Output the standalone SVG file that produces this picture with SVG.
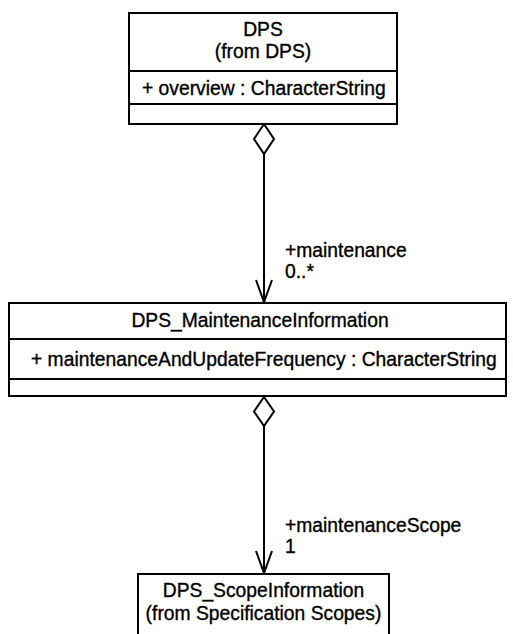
<svg xmlns="http://www.w3.org/2000/svg" width="513" height="634" viewBox="0 0 513 634">
<style>
.box{fill:#fff;stroke:#000;stroke-width:2}
.div{stroke:#000;stroke-width:2}
.t{font-family:"Liberation Sans",Arial,sans-serif;font-size:19.3px;fill:#000;stroke:#000;stroke-width:0.35}
.c{text-anchor:middle}
.ln{stroke:#000;stroke-width:2;fill:none}
.dia{fill:#fff;stroke:#000;stroke-width:2}
</style>
<rect width="513" height="634" fill="#fff"/>
<g id="connectors">
  <g id="c1">
    <line class="ln" x1="264" y1="154" x2="264" y2="302"/>
    <polygon class="dia" points="264,124 274,139 264,154 254,139"/>
    <polyline class="ln" points="256,280 264,302 272,280"/>
    <text class="t" x="285" y="257">+maintenance</text>
    <text class="t" x="285" y="278">0..*</text>
  </g>
  <g id="c2">
    <line class="ln" x1="264" y1="426" x2="264" y2="573"/>
    <polygon class="dia" points="264,397 274,411.5 264,426 254,411.5"/>
    <polyline class="ln" points="256,551 264,573 272,551"/>
    <text class="t" x="285" y="532">+maintenanceScope</text>
    <text class="t" x="285" y="553">1</text>
  </g>
</g>
<g id="DPS">
  <rect class="box" x="129" y="13" width="268" height="111"/>
  <line class="div" x1="129" y1="71" x2="397" y2="71"/>
  <line class="div" x1="129" y1="104" x2="397" y2="104"/>
  <text class="t c" x="263" y="36">DPS</text>
  <text class="t c" x="263" y="58">(from DPS)</text>
  <text class="t" x="142" y="95">+ overview : CharacterString</text>
</g>
<g id="DPS_MaintenanceInformation">
  <rect class="box" x="9" y="303" width="497" height="93"/>
  <line class="div" x1="9" y1="339" x2="506" y2="339"/>
  <line class="div" x1="9" y1="379" x2="506" y2="379"/>
  <text class="t c" x="260" y="327">DPS_MaintenanceInformation</text>
  <text class="t" x="31" y="366">+ maintenanceAndUpdateFrequency : CharacterString</text>
</g>
<g id="DPS_ScopeInformation">
  <rect class="box" x="138" y="574" width="251" height="80"/>
  <text class="t c" x="263.5" y="597">DPS_ScopeInformation</text>
  <text class="t c" x="263.5" y="620">(from Specification Scopes)</text>
</g>
</svg>
